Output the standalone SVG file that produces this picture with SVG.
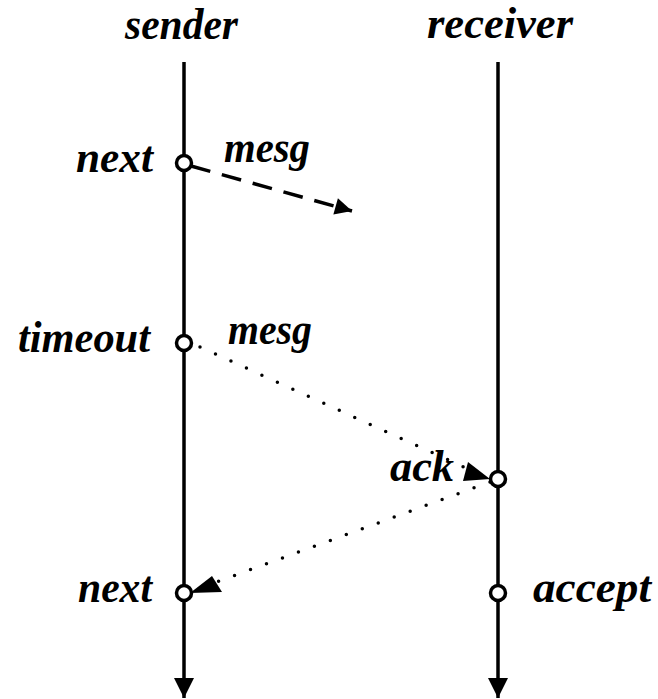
<svg xmlns="http://www.w3.org/2000/svg" width="658" height="699" viewBox="0 0 658 699">
<style>
.t{font-family:"Liberation Serif","Times New Roman",serif;font-style:italic;font-weight:bold;font-size:44px;fill:#000}
.life{stroke:#000;stroke-width:3.5;fill:none}
.ev{stroke:#000;stroke-width:3.5;fill:#fff}
.dash{stroke:#000;stroke-width:3.5;fill:none;stroke-dasharray:20 12}
.dot{stroke:#000;stroke-width:3.5;fill:none;stroke-dasharray:0 17;stroke-linecap:round}
</style>
<defs>
<marker id="ah" viewBox="0 0 10 10" refX="10" refY="5" markerWidth="26" markerHeight="17" markerUnits="userSpaceOnUse" orient="auto">
<path d="M0,0 L10,5 L0,10 Z" fill="#000"/>
</marker>
<marker id="life-ah" viewBox="0 0 10 10" refX="10" refY="5" markerWidth="30" markerHeight="20" markerUnits="userSpaceOnUse" orient="auto">
<path d="M0,0 L10,5 L0,10 Z" fill="#000"/>
</marker>
</defs>
<g id="sender">
<text class="t" x="125" y="39" textLength="113" lengthAdjust="spacingAndGlyphs">sender</text>
<line class="life" x1="184" y1="62" x2="184" y2="698" marker-end="url(#life-ah)"/>
</g>
<g id="receiver">
<text class="t" x="427" y="38" textLength="146" lengthAdjust="spacingAndGlyphs">receiver</text>
<line class="life" x1="498" y1="62" x2="498" y2="698" marker-end="url(#life-ah)"/>
</g>
<g id="connectors">
<line class="dash" x1="191" y1="166" x2="352" y2="211" marker-end="url(#ah)"/>
<line class="dot" x1="200" y1="347" x2="488" y2="478"/>
<polygon points="490,479 463,481 468,462" fill="#000"/>
<line class="dot" x1="490" y1="482" x2="192" y2="591"/>
<polygon points="190,593 212,576 222,592" fill="#000"/>
</g>
<g id="next1">
<circle class="ev" cx="184" cy="163" r="7.5"/>
<text class="t" x="76" y="172" textLength="77" lengthAdjust="spacingAndGlyphs">next</text>
</g>
<g id="mesg1-label"><text class="t" x="224" y="162" textLength="86" lengthAdjust="spacingAndGlyphs">mesg</text></g>
<g id="timeout">
<circle class="ev" cx="184" cy="343" r="7.5"/>
<text class="t" x="18" y="352" textLength="132" lengthAdjust="spacingAndGlyphs">timeout</text>
</g>
<g id="mesg2-label"><text class="t" x="228" y="344" textLength="84" lengthAdjust="spacingAndGlyphs">mesg</text></g>
<g id="ack">
<circle class="ev" cx="498" cy="479" r="7.5"/>
<text class="t" x="390" y="481" textLength="64" lengthAdjust="spacingAndGlyphs">ack</text>
</g>
<g id="next2">
<circle class="ev" cx="184" cy="593" r="7.5"/>
<text class="t" x="78" y="602" textLength="74" lengthAdjust="spacingAndGlyphs">next</text>
</g>
<g id="accept">
<circle class="ev" cx="498" cy="593" r="7.5"/>
<text class="t" x="533" y="602" textLength="118" lengthAdjust="spacingAndGlyphs">accept</text>
</g>
</svg>
